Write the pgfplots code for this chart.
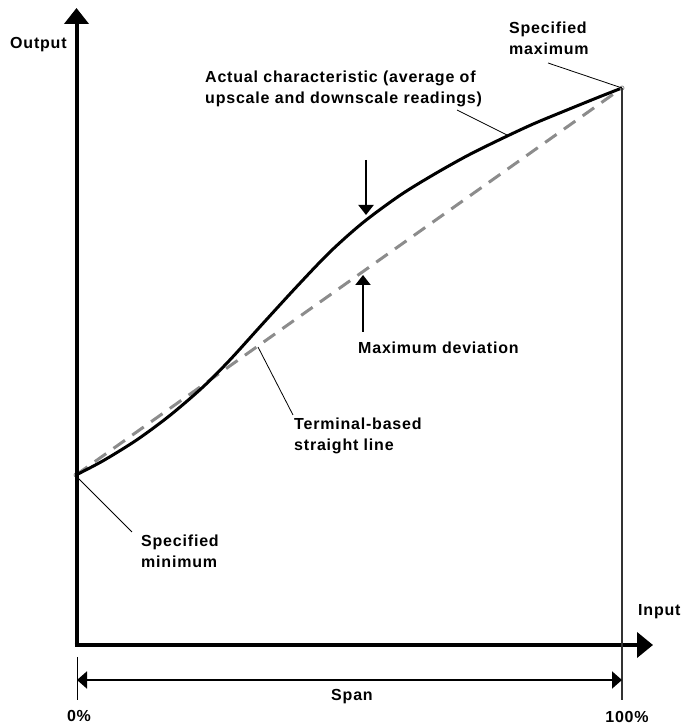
\documentclass[border=0pt]{standalone}
\usepackage{pgfplots}
\pgfplotsset{compat=1.18}
\usepackage{fontspec}
\setmainfont{Liberation Sans}[LetterSpace=5]
\usetikzlibrary{arrows.meta}
\begin{document}
\begin{tikzpicture}
\fontsize{16}{21}\selectfont\bfseries
\useasboundingbox (0,0) rectangle (681pt,727pt);
\begin{axis}[at={(76pt,82pt)}, anchor=south west, scale only axis,
  width=576pt, height=637pt, xmin=0, xmax=105.49, ymin=0, ymax=116.67,
  axis lines=none, clip=false]
\addplot[gray!90, line width=3pt, dash pattern=on 14pt off 9pt, mark=o, mark size=2pt, mark options={solid, line width=0.8pt}]
  coordinates {(0,31.14) (100,102.02)};
\addplot[black, line width=3pt, smooth, tension=0.5] coordinates {
(0,31.14) (4.945,33.73) (11.172,37.59) (17.216,42.06) (23.26,47.26)
(28.205,52.23) (34.249,58.90) (40.476,65.69) (46.52,71.99) (52.564,77.37)
(59.34,82.36) (65.385,86.09) (71.612,89.59) (77.656,92.59) (83.70,95.41)
(89.927,97.99) (95.97,100.44) (100,102.02)};
\end{axis}
\begin{scope}[x=1pt,y=-1pt,shift={(0,727pt)}]
% axes
\draw[line width=4pt, -{Triangle[length=16pt,width=24pt]}] (76.5,647) -- (76.5,8);
\draw[line width=4pt, -{Triangle[length=16pt,width=25pt]}] (74.5,645) -- (653,645);
% span
\draw[line width=1pt] (77,657) -- (77,700);
\draw[line width=1.5pt, black!80] (622,88) -- (622,700);
\draw[line width=2pt, {Triangle[length=10pt,width=17pt]}-{Triangle[length=10pt,width=17pt]}] (77,680) -- (622,680);
% deviation arrows
\draw[line width=2pt, -{Triangle[length=10pt,width=15pt]}] (366,160) -- (366,215);
\draw[line width=2pt, -{Triangle[length=10pt,width=15pt]}] (363,332) -- (363,275);
% leaders
\draw[line width=0.8pt] (548,63) -- (622,88);
\draw[line width=0.8pt] (457,110) -- (507,135);
\draw[line width=0.8pt] (258,347) -- (293,415);
\draw[line width=0.8pt] (77,477) -- (132,532);
% labels
\node[anchor=west, inner sep=0] at (10,45) {Output};
\node[anchor=west, inner sep=0, align=left] at (205,89) {Actual characteristic (average of\\upscale and downscale readings)};
\node[anchor=west, inner sep=0, align=left] at (509,38) {Specified\\maximum};
\node[anchor=west, inner sep=0] at (358,348) {Maximum deviation};
\node[anchor=west, inner sep=0, align=left] at (294,436) {Terminal-based\\straight line};
\node[anchor=west, inner sep=0, align=left] at (141,551) {Specified\\minimum};
\node[anchor=west, inner sep=0] at (638,612) {Input};
\node[inner sep=0] at (352,697) {Span};
\node[inner sep=0] at (79,716) {0\%};
\node[inner sep=0] at (627,717) {100\%};
\end{scope}
\end{tikzpicture}
\end{document}
